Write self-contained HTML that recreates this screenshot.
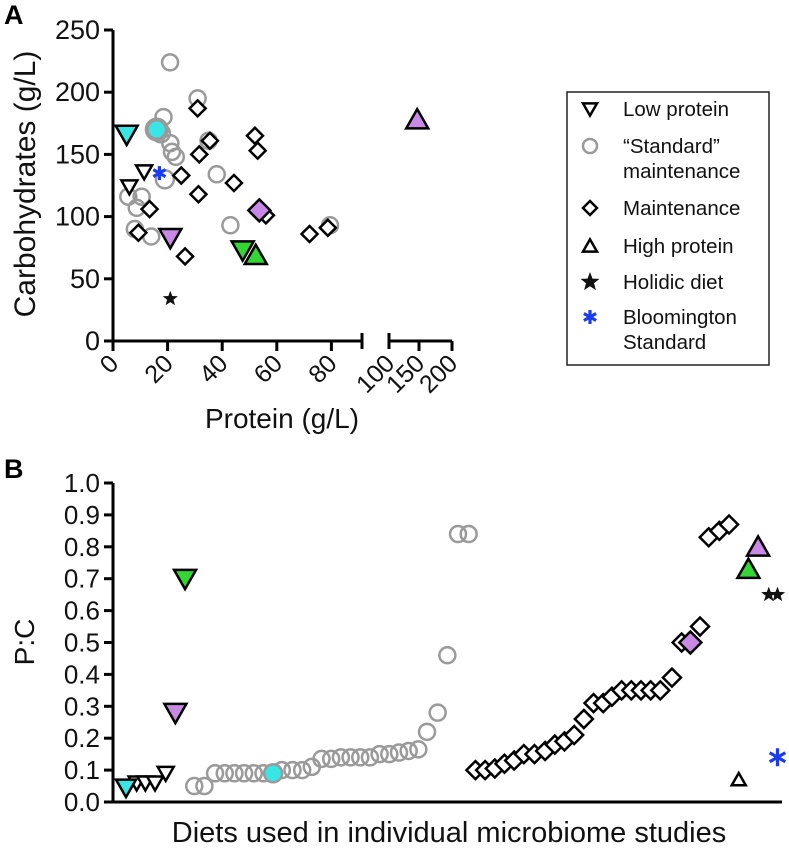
<!DOCTYPE html>
<html><head><meta charset="utf-8"><style>
body{margin:0;background:#fff;}
svg{display:block;font-family:"Liberation Sans",Arial,sans-serif;}
</style></head><body>
<svg id="fig" width="789" height="849" viewBox="0 0 789 849" xmlns="http://www.w3.org/2000/svg">
<text x="4" y="24" font-size="27" font-weight="bold">A</text>
<text x="4" y="478" font-size="27" font-weight="bold">B</text>
<g id="pa"></g>
<g id="pb"></g>
<g id="legend">
<rect x="567" y="92" width="202" height="273" fill="#fff" stroke="#222" stroke-width="1.5"/>
</g>
</svg>
<script>
// Panel A data: [protein, carbs]
const aLowProtein=[[11.4,136],[6,124]];
const aLowProteinCyan=[[5,166]];
const aLowProteinPurple=[[21,83]];
const aLowProteinGreen=[[47.5,73]];
const aStandard=[[20.9,224],[31,195],[18.5,180],[21,159],[21.6,152],[23,148],[35,161],[38,134],[5.6,116],[10.5,116],[8.7,107],[8,90],[14,84],[43,93],[79.5,93]];
const aStandardFilled=[[17.5,167],[19,130]];
const aStandardCyan=[[16,170]];
const aMaintenance=[[31,187],[31.6,150],[35.5,161],[25,133],[31.3,118],[44.3,127],[52,165],[53,153],[56,101],[72,86],[78.7,91],[13.4,106],[9.3,87],[26.4,68]];
const aMaintPurple=[[53.6,105]];
const aHighGreen=[[52.3,69]];
const aHighPurple=[[147,178]];
const aHolidic=[[21,34]];
const aBloomington=[[17,135]];
const aYTicks=[0,50,100,150,200,250];
const aXTicks1=[0,20,40,60,80];
const aXTicks2=[100,150,200];

// Panel B data: [rank, P:C]
const bLowProteinCyan=[[0,0.045]];
const bLowProtein=[[1.1,0.06],[2,0.06],[3,0.06],[4.1,0.09]];
const bLowProteinPurple=[[5.1,0.28]];
const bLowProteinGreen=[[6.1,0.70]];
const bStandard=[[7.05,0.05],[8.1,0.05],[9.2,0.09],[10.2,0.09],[11.2,0.09],[12.2,0.09],[13.2,0.09],[14.2,0.09],[16.1,0.10],[17.2,0.10],[18.2,0.10],[19.2,0.11],[20.2,0.135],[21.2,0.135],[22.2,0.14],[23.2,0.14],[24.2,0.14],[25.2,0.14],[26.2,0.15],[27.2,0.15],[28.2,0.155],[29.2,0.16],[30.2,0.165],[31.1,0.22],[32.2,0.28],[33.2,0.46],[34.3,0.84],[35.4,0.84]];
const bStandardCyan=[[15.2,0.09]];
const bMaintenance=[[36.1,0.10],[37.1,0.10],[38.1,0.105],[39.1,0.12],[40.1,0.13],[41.1,0.15],[42.2,0.15],[43.3,0.16],[44.3,0.18],[45.3,0.19],[46.3,0.21],[47.3,0.26],[48.3,0.31],[49.3,0.31],[50.2,0.33],[51.2,0.35],[52.2,0.35],[53.2,0.35],[54.2,0.35],[55.2,0.35],[56.4,0.39],[57.4,0.50],[59.3,0.55],[60.2,0.83],[61.3,0.85],[62.3,0.87]];
const bMaintPurple=[[58.3,0.50]];
const bHigh=[[63.3,0.07]];
const bHighGreen=[[64.3,0.73]];
const bHighPurple=[[65.3,0.80]];
const bHolidic=[[66.4,0.65],[67.3,0.65]];
const bBloomington=[[67.3,0.14]];
const bYTicks=[0,0.1,0.2,0.3,0.4,0.5,0.6,0.7,0.8,0.9,1.0];

const NS="http://www.w3.org/2000/svg";
function el(tag,attrs,parent){const e=document.createElementNS(NS,tag);for(const k in attrs)e.setAttribute(k,attrs[k]);parent.appendChild(e);return e;}

const CY='#39e6e6',PU='#c98ae6',GR='#33d633',GY='#9a9a9a';
function marker(g,type,x,y,s,fill,stroke,name){
  let e;
  if(type==='down'){e=el('polygon',{points:`${x-s},${y-s*0.8} ${x+s},${y-s*0.8} ${x},${y+s*0.95}`,fill:fill,stroke:stroke,'stroke-width':2.5,'stroke-linejoin':'miter'},g);}
  else if(type==='up'){e=el('polygon',{points:`${x-s},${y+s*0.8} ${x+s},${y+s*0.8} ${x},${y-s*0.95}`,fill:fill,stroke:stroke,'stroke-width':2.5},g);}
  else if(type==='circle'){e=el('circle',{cx:x,cy:y,r:s,fill:fill,stroke:stroke,'stroke-width':2.5},g);}
  else if(type==='diamond'){e=el('polygon',{points:`${x},${y-s} ${x+s},${y} ${x},${y+s} ${x-s},${y}`,fill:fill,stroke:stroke,'stroke-width':2.5},g);}
  else if(type==='star'){let p=[];for(let i=0;i<10;i++){const r=i%2?s*0.42:s;const a=-Math.PI/2+i*Math.PI/5;p.push((x+r*Math.cos(a)).toFixed(1)+','+(y+r*Math.sin(a)).toFixed(1));}e=el('polygon',{points:p.join(' '),fill:'#111'},g);}
  else if(type==='asterisk'){let d='';for(let i=0;i<3;i++){const a=-Math.PI/2+i*Math.PI/3;const dx=s*Math.cos(a),dy=s*Math.sin(a);d+=`M${(x-dx).toFixed(1)},${(y-dy).toFixed(1)}L${(x+dx).toFixed(1)},${(y+dy).toFixed(1)}`;}e=el('path',{d:d,stroke:'#1a3cf0','stroke-width':3.2,fill:'none'},g);}
  
  
  return e;
}

// ---------- Panel A ----------
const pa=document.getElementById('pa');
const ax0=113, ay0=341;
function aY(v){return ay0-v*1.244;}
function aX(v){
  if(v<=95) return ax0+v*2.73;
  if(v<=150) return 389+(v-100)*0.6;
  return 419+(v-150)*0.66;
}
el('line',{x1:ax0,y1:aY(250),x2:ax0,y2:ay0+1,stroke:'#000','stroke-width':3},pa);
el('line',{x1:ax0-1,y1:ay0,x2:362,y2:ay0,stroke:'#000','stroke-width':3},pa);
el('line',{x1:389,y1:ay0,x2:452,y2:ay0,stroke:'#000','stroke-width':3},pa);
el('line',{x1:362,y1:ay0-8,x2:362,y2:ay0+8,stroke:'#000','stroke-width':3},pa);
el('line',{x1:389,y1:ay0-8,x2:389,y2:ay0+8,stroke:'#000','stroke-width':3},pa);
aYTicks.forEach(t=>{
  const y=aY(t);
  const l=el('line',{x1:ax0-9,y1:y,x2:ax0,y2:y,stroke:'#000','stroke-width':3},pa);
  
  const tx=el('text',{x:ax0-13,y:y+9,'font-size':27,'text-anchor':'end',fill:'#111'},pa);
  tx.textContent=t;
  
});
aXTicks1.concat(aXTicks2).forEach(t=>{
  const x=aX(t);
  if(t!==100){const l=el('line',{x1:x,y1:ay0,x2:x,y2:ay0+10,stroke:'#000','stroke-width':3},pa);}
  const tx=el('text',{x:x+7,y:ay0+24,'font-size':25,'text-anchor':'end',fill:'#111',transform:`rotate(-45 ${x+7} ${ay0+24})`},pa);
  tx.textContent=t;
  
});
let t=el('text',{x:0,y:0,'font-size':30,'text-anchor':'middle',fill:'#111',transform:'translate(35,184) rotate(-90)'},pa);
t.textContent='Carbohydrates (g/L)';

t=el('text',{x:282,y:428,'font-size':28,'text-anchor':'middle',fill:'#111'},pa);
t.textContent='Protein (g/L)';


aStandard.forEach(d=>marker(pa,'circle',aX(d[0]),aY(d[1]),8,'none',GY,'a-standard-point'));
aStandardFilled.forEach(d=>marker(pa,'circle',aX(d[0]),aY(d[1]),9,'none',GY,'a-standard-point'));
aMaintenance.forEach(d=>marker(pa,'diamond',aX(d[0]),aY(d[1]),8,'#fff','#000','a-maintenance-point'));
aLowProtein.forEach(d=>marker(pa,'down',aX(d[0]),aY(d[1]),8,'#fff','#000','a-low-protein-point'));
aStandardCyan.forEach(d=>{const c=marker(pa,'circle',aX(d[0]),aY(d[1]),10,CY,GY,'a-standard-cyan-point');c.setAttribute('stroke-width',4);});
aLowProteinCyan.forEach(d=>marker(pa,'down',aX(d[0]),aY(d[1]),11,CY,'#000','a-low-protein-cyan-point'));
aLowProteinPurple.forEach(d=>marker(pa,'down',aX(d[0]),aY(d[1]),11,PU,'#000','a-low-protein-purple-point'));
aLowProteinGreen.forEach(d=>marker(pa,'down',aX(d[0]),aY(d[1]),11,GR,'#000','a-low-protein-green-point'));
aHighGreen.forEach(d=>marker(pa,'up',aX(d[0]),aY(d[1]),11,GR,'#000','a-high-protein-green-point'));
aHighPurple.forEach(d=>marker(pa,'up',aX(d[0]),aY(d[1]),11,PU,'#000','a-high-protein-purple-point'));
aMaintPurple.forEach(d=>marker(pa,'diamond',aX(d[0]),aY(d[1]),11,PU,'#000','a-maintenance-purple-point'));
aHolidic.forEach(d=>marker(pa,'star',aX(d[0]),aY(d[1]),8,'#111','#111','a-holidic-point'));
aBloomington.forEach(d=>marker(pa,'asterisk',aX(d[0]),aY(d[1]),7,'#1a3cf0','#1a3cf0','a-bloomington-point'));

// ---------- Legend ----------
const lg=document.getElementById('legend');
const legendItems=[['down','#fff','#000',['Low protein'],109],['circle','none',GY,['\u201cStandard\u201d','maintenance'],146],['diamond','#fff','#000',['Maintenance'],208],['up','#fff','#000',['High protein'],246],['star','#111','#111',['Holidic diet'],282],['asterisk','#1a3cf0','#1a3cf0',['Bloomington','Standard'],317]];
legendItems.forEach(it=>{
  marker(lg,it[0],590,it[4],it[0]==='circle'?7:(it[0]==='star'?10:7),it[1],it[2],'legend-marker');
  it[3].forEach((line,i)=>{
    const tx=el('text',{x:623,y:it[4]+7+i*25,'font-size':20.5,fill:'#111'},lg);
    tx.textContent=line;
    
  });
});

// ---------- Panel B ----------
const pb=document.getElementById('pb');
const bx0=113, by0=802;
function bY(v){return by0-v*319;}
function bX(r){return 126+r*9.68;}
el('line',{x1:bx0,y1:bY(1),x2:bx0,y2:by0+1,stroke:'#000','stroke-width':3},pb);
el('line',{x1:bx0-1,y1:by0,x2:782,y2:by0,stroke:'#000','stroke-width':3},pb);
bYTicks.forEach(v=>{
  const y=bY(v);
  const l=el('line',{x1:bx0-9,y1:y,x2:bx0,y2:y,stroke:'#000','stroke-width':3},pb);
  
  const tx=el('text',{x:bx0-13,y:y+9,'font-size':26,'text-anchor':'end',fill:'#111'},pb);
  tx.textContent=v.toFixed(1);
  
});
t=el('text',{x:0,y:0,'font-size':28,'text-anchor':'middle',fill:'#111',transform:'translate(34,642) rotate(-90)'},pb);
t.textContent='P:C';

t=el('text',{x:449,y:842,'font-size':29,'text-anchor':'middle',fill:'#111'},pb);
t.textContent='Diets used in individual microbiome studies';


bStandard.forEach(d=>marker(pb,'circle',bX(d[0]),bY(d[1]),8,'none',GY,'b-standard-point'));
bStandardCyan.forEach(d=>marker(pb,'circle',bX(d[0]),bY(d[1]),9,CY,GY,'b-standard-cyan-point'));
bMaintenance.forEach(d=>marker(pb,'diamond',bX(d[0]),bY(d[1]),9,'#fff','#000','b-maintenance-point'));
bMaintPurple.forEach(d=>marker(pb,'diamond',bX(d[0]),bY(d[1]),11,PU,'#000','b-maintenance-purple-point'));
bLowProtein.forEach(d=>marker(pb,'down',bX(d[0]),bY(d[1]),8,'#fff','#000','b-low-protein-point'));
bLowProteinCyan.forEach(d=>marker(pb,'down',bX(d[0]),bY(d[1]),10,CY,'#000','b-low-protein-cyan-point'));
bLowProteinPurple.forEach(d=>marker(pb,'down',bX(d[0]),bY(d[1]),11,PU,'#000','b-low-protein-purple-point'));
bLowProteinGreen.forEach(d=>marker(pb,'down',bX(d[0]),bY(d[1]),11,GR,'#000','b-low-protein-green-point'));
bHigh.forEach(d=>marker(pb,'up',bX(d[0]),bY(d[1]),7,'#fff','#000','b-high-protein-point'));
bHighGreen.forEach(d=>marker(pb,'up',bX(d[0]),bY(d[1]),11,GR,'#000','b-high-protein-green-point'));
bHighPurple.forEach(d=>marker(pb,'up',bX(d[0]),bY(d[1]),11,PU,'#000','b-high-protein-purple-point'));
bHolidic.forEach(d=>marker(pb,'star',bX(d[0]),bY(d[1]),8,'#111','#111','b-holidic-point'));
bBloomington.forEach(d=>marker(pb,'asterisk',bX(d[0]),bY(d[1]),9,'#1a3cf0','#1a3cf0','b-bloomington-point'));
</script>
</body></html>
